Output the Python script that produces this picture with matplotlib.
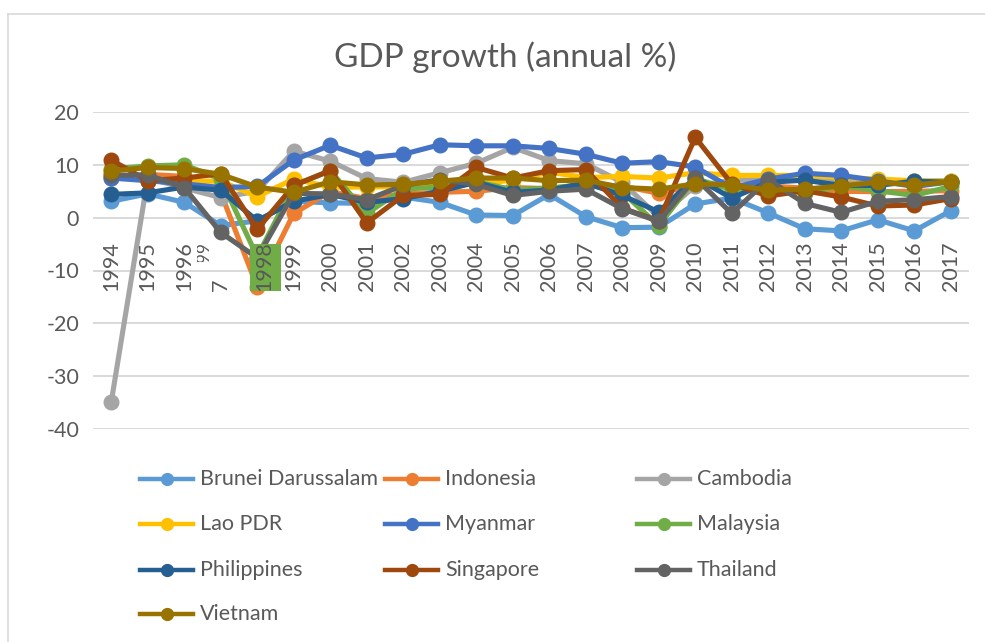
import matplotlib
matplotlib.use("Agg")
import matplotlib.pyplot as plt
from matplotlib.lines import Line2D
from matplotlib.patches import Rectangle
from matplotlib.transforms import Bbox

plt.rcParams['font.family'] = ['Lato', 'DejaVu Sans']

years = ['1994', '1995', '1996', '1997', '1998', '1999', '2000', '2001', '2002', '2003',
         '2004', '2005', '2006', '2007', '2008', '2009', '2010', '2011', '2012', '2013',
         '2014', '2015', '2016', '2017']

countries = ['Brunei Darussalam', 'Indonesia', 'Cambodia', 'Lao PDR', 'Myanmar',
             'Malaysia', 'Philippines', 'Singapore', 'Thailand', 'Vietnam']
colors = ['#5B9BD5', '#ED7D31', '#A5A5A5', '#FFC000', '#4472C4',
          '#70AD47', '#255E91', '#9E480E', '#636363', '#997300']

brunei = [3.1, 4.5, 2.9, -1.5, -0.6, 3.1, 2.8, 2.7, 3.9, 2.9, 0.5, 0.4, 4.4, 0.2, -1.9, -1.8, 2.6, 3.7, 0.9, -2.1, -2.5, -0.4, -2.5, 1.3]
indonesia = [7.5, 8.2, 7.8, 4.7, -13.1, 0.8, 4.9, 3.6, 4.5, 4.8, 5.0, 5.7, 5.5, 6.3, 6.0, 4.6, 6.2, 6.2, 6.0, 5.6, 5.0, 4.9, 5.0, 5.1]
cambodia = [-34.9, 7.5, 5.6, 3.8, 5.0, 12.6, 10.7, 7.4, 6.7, 8.5, 10.3, 13.3, 10.8, 10.2, 6.7, 0.1, 6.0, 7.1, 7.3, 7.4, 7.1, 7.0, 6.9, 7.0]
lao = [8.1, 7.0, 6.9, 6.9, 4.0, 7.3, 5.8, 5.8, 5.9, 6.1, 6.4, 7.1, 8.6, 7.6, 7.8, 7.5, 8.5, 8.0, 8.0, 8.0, 7.6, 7.3, 7.0, 6.9]
myanmar = [7.5, 7.0, 6.4, 5.7, 5.9, 10.9, 13.7, 11.3, 12.0, 13.8, 13.6, 13.6, 13.1, 12.0, 10.3, 10.6, 9.6, 5.6, 7.3, 8.4, 8.0, 7.0, 5.9, 6.8]
malaysia = [9.2, 9.8, 10.0, 7.3, -7.4, 6.1, 8.9, 0.8, 5.4, 5.8, 6.8, 5.3, 5.6, 6.3, 4.8, -1.5, 7.4, 5.3, 5.5, 4.7, 6.0, 5.1, 4.2, 5.9]
philippines = [4.4, 4.7, 5.8, 5.2, -0.6, 3.1, 4.4, 2.9, 3.6, 5.0, 6.7, 4.8, 5.2, 6.6, 4.2, 1.1, 7.6, 3.7, 6.7, 7.1, 6.1, 6.1, 6.9, 6.7]
singapore = [10.9, 7.0, 7.5, 8.3, -2.2, 6.1, 8.9, -1.0, 4.2, 4.4, 9.5, 7.5, 8.9, 9.1, 1.8, -0.6, 15.2, 6.4, 4.1, 5.1, 3.9, 2.2, 2.4, 3.6]
thailand = [8.0, 8.1, 5.7, -2.8, -7.6, 4.6, 4.5, 3.4, 6.1, 7.2, 6.3, 4.2, 5.0, 5.4, 1.7, -0.7, 7.5, 0.8, 7.2, 2.7, 1.0, 3.1, 3.4, 4.0]
vietnam = [8.8, 9.5, 9.3, 8.2, 5.8, 4.8, 6.8, 6.2, 6.3, 6.9, 7.5, 7.5, 7.0, 7.1, 5.7, 5.4, 6.4, 6.2, 5.2, 5.4, 6.0, 6.7, 6.2, 6.8]

series = [brunei, indonesia, cambodia, lao, myanmar, malaysia, philippines, singapore, thailand, vietnam]
yticks = [20, 10, 0, -10, -20, -30, -40]

W, H = 985, 642
fig = plt.figure(figsize=(W / 100, H / 100), dpi=100)
TXT = '#595959'
FS = 15.5

# chart border
fig.add_artist(Line2D([8 / W, 8 / W], [0, 1 - 14 / H], transform=fig.transFigure, color='#d9d9d9', lw=1.2))
fig.add_artist(Line2D([8 / W, 1], [1 - 14 / H, 1 - 14 / H], transform=fig.transFigure, color='#d9d9d9', lw=1.2))

ax = fig.add_axes([93 / W, 1 - 429 / H, (969 - 93) / W, (429 - 112) / H])
ax.set_xlim(-0.5, len(years) - 0.5)
ax.set_ylim(-40, 20)
for s in ax.spines.values():
    s.set_visible(False)
ax.set_yticks(yticks)
ax.set_yticklabels([str(v) for v in yticks], color=TXT, fontsize=FS)
ax.tick_params(axis='y', length=0, pad=10)
ax.set_xticks([])
ax.grid(axis='y', color='#d9d9d9', lw=1.4)
ax.set_axisbelow(True)

x = list(range(len(years)))
for vals, c in zip(series, colors):
    ax.plot(x, vals, color=c, lw=3.7, marker='o', ms=10.5, mec=c, mfc=c, zorder=3,
            solid_joinstyle='round')

# category labels (rotated, anchored at their start)
ylab = -13.8
i98 = years.index('1998')
ax.add_patch(Rectangle((i98 - 0.2, ylab), 0.85, 8.9, facecolor='#70AD47', edgecolor='none', zorder=5))
for i, yr in enumerate(years):
    if yr == '1997':
        ax.text(i, ylab, '7', rotation=90, ha='center', va='bottom', fontsize=FS, color=TXT, zorder=6)
        t = ax.text(i - 0.48, -4.4, '199', rotation=90, ha='center', va='top', fontsize=FS * 0.8,
                    color=TXT, zorder=6)
        t.set_clip_box(Bbox.from_extents(197, H - 262, 212, H - 240))
        t.set_clip_on(True)
    else:
        dx = 0.2 if yr == '1998' else 0.0
        ax.text(i + dx, ylab, yr, rotation=90, ha='center', va='bottom', fontsize=FS, color=TXT, zorder=6)

fig.text(505 / W, 1 - 57 / H, 'GDP growth (annual %)', ha='center', va='center', fontsize=24, color=TXT)

# legend (3 columns, row-wise)
col_x = [140, 385, 637]
row_y = [479, 524, 570, 614]
for k, (name, c) in enumerate(zip(countries, colors)):
    r, cc = divmod(k, 3)
    x0 = col_x[cc]
    yy = 1 - row_y[r] / H
    fig.add_artist(Line2D([x0 / W, (x0 + 53) / W], [yy, yy], transform=fig.transFigure, color=c, lw=3.2))
    fig.add_artist(Line2D([(x0 + 26.5) / W], [yy], transform=fig.transFigure, color=c, marker='o', ms=8.5, lw=0))
    fig.text((x0 + 60) / W, yy, name, ha='left', va='center', fontsize=FS, color=TXT)

fig.savefig('out.png', dpi=100)
